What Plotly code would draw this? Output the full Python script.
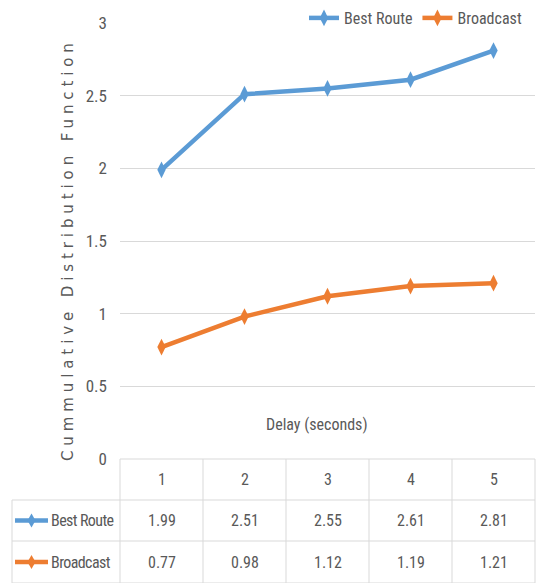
import plotly.graph_objects as go

# ---- data ----
delays = [1, 2, 3, 4, 5]
best_route = [1.99, 2.51, 2.55, 2.61, 2.81]
broadcast = [0.77, 0.98, 1.12, 1.19, 1.21]
series_names = ["Best Route", "Broadcast"]
series_values = [best_route, broadcast]
series_colors = ["#5B9BD5", "#ED7D31"]
y_ticks = [0, 0.5, 1, 1.5, 2, 2.5, 3]
y_tick_text = ["0", "0.5", "1", "1.5", "2", "2.5", "3"]
x_title = "Delay (seconds)"
y_title = "Cummulative Distribution Function"

# ---- page geometry (pixels) ----
W, H = 536, 583
L, R, T, B = 120, 1, 23, 124
PW, PH = W - L - R, H - T - B

NARROW = "Roboto Condensed, Liberation Sans, sans-serif"
TXT = "#595959"
GRID = "#d9d9d9"
FS = 16


def px_x(px):
    return (px - L) / PW


def px_y(py):
    return (H - B - py) / PH


def tight(s, sp=-0.45):
    return '<span style="letter-spacing:%spx">%s</span>' % (sp, s)


fig = go.Figure()
for name, vals, col in zip(series_names, series_values, series_colors):
    fig.add_trace(go.Scatter(
        x=delays, y=vals, name=name, mode="lines+markers",
        line=dict(color=col, width=4.5),
        marker=dict(symbol="diamond-tall", size=12, color=col),
        cliponaxis=False,
    ))

shapes = []
annotations = []

# data table underneath the plot: header row + one row per series
row_edges = [459, 500, 541, 583]
table_left = 12
x0, x1 = delays[0] - 0.5, delays[-1] + 0.5


def col_px(v):
    return L + (v - x0) / (x1 - x0) * PW


line_style = dict(color=GRID, width=1)
# horizontal rules
shapes.append(dict(type="line", xref="paper", yref="paper",
                   x0=px_x(L), x1=px_x(W - R), y0=px_y(row_edges[0]), y1=px_y(row_edges[0]),
                   line=line_style, layer="above"))
for ry in row_edges[1:]:
    shapes.append(dict(type="line", xref="paper", yref="paper",
                       x0=px_x(table_left), x1=px_x(W - R), y0=px_y(ry), y1=px_y(ry),
                       line=line_style))
# vertical rules between delay columns
for k in range(len(delays) + 1):
    xb = col_px(x0 + k)
    shapes.append(dict(type="line", xref="paper", yref="paper",
                       x0=px_x(xb), x1=px_x(xb), y0=px_y(row_edges[0]), y1=px_y(row_edges[-1]),
                       line=line_style))
shapes.append(dict(type="line", xref="paper", yref="paper",
                   x0=px_x(table_left), x1=px_x(table_left),
                   y0=px_y(row_edges[1]), y1=px_y(row_edges[-1]), line=line_style))

# header cells
hy = (row_edges[0] + row_edges[1]) / 2
for d in delays:
    annotations.append(dict(x=d, y=px_y(hy), xref="x", yref="paper", text=str(d),
                            showarrow=False, xanchor="center", yanchor="middle",
                            font=dict(family=NARROW, size=FS, color=TXT)))

# series rows: legend key, name and values
for i, (name, vals, col) in enumerate(zip(series_names, series_values, series_colors)):
    cy = (row_edges[i + 1] + row_edges[i + 2]) / 2
    shapes.append(dict(type="line", xref="paper", yref="paper",
                       x0=px_x(15), x1=px_x(48), y0=px_y(cy), y1=px_y(cy),
                       line=dict(color=col, width=4.5)))
    cx = 31.5
    path = "M {a},{b} L {c},{d} L {a},{e} L {f},{d} Z".format(
        a=px_x(cx), b=px_y(cy - 7), c=px_x(cx + 4), d=px_y(cy),
        e=px_y(cy + 7), f=px_x(cx - 4))
    shapes.append(dict(type="path", xref="paper", yref="paper", path=path,
                       fillcolor=col, line=dict(color=col, width=0)))
    annotations.append(dict(x=px_x(49), y=px_y(cy), xref="paper", yref="paper",
                            text=tight(name, -0.6),
                            showarrow=False, xanchor="left", yanchor="middle",
                            font=dict(family=NARROW, size=FS, color=TXT)))
    for d, v in zip(delays, vals):
        annotations.append(dict(x=d, y=px_y(cy), xref="x", yref="paper", text=f"{v:.2f}",
                                showarrow=False, xanchor="center", yanchor="middle",
                                font=dict(family=NARROW, size=FS, color=TXT)))

# axis titles
annotations.append(dict(x=px_x(317), y=px_y(424), xref="paper", yref="paper", text=x_title,
                        showarrow=False, xanchor="center", yanchor="middle",
                        font=dict(family=NARROW, size=FS, color=TXT)))
annotations.append(dict(x=px_x(68), y=px_y(250), xref="paper", yref="paper",
                        text='<span style="letter-spacing:4.9px">' + y_title + "</span>",
                        textangle=-90, showarrow=False, xanchor="center", yanchor="middle",
                        font=dict(family="DejaVu Sans, sans-serif", size=15, color=TXT)))

fig.update_layout(
    width=W, height=H,
    margin=dict(l=L, r=R, t=T, b=B, pad=0),
    paper_bgcolor="white", plot_bgcolor="white",
    showlegend=True,
    legend=dict(orientation="h", x=px_x(304), y=px_y(18), xanchor="left", yanchor="middle",
                bgcolor="rgba(0,0,0,0)", font=dict(family=NARROW, size=FS, color=TXT),
                itemwidth=30, tracegroupgap=0),
    xaxis=dict(range=[x0, x1], showgrid=False, zeroline=False, showticklabels=False,
               showline=False, ticks="", fixedrange=True),
    yaxis=dict(range=[0, 3], tickvals=y_ticks, ticktext=y_tick_text, showgrid=True,
               gridcolor=GRID, gridwidth=1, zeroline=False, showline=False, ticks="",
               ticklabelstandoff=12,
               tickfont=dict(family=NARROW, size=17, color=TXT)),
    shapes=shapes,
    annotations=annotations,
)

fig.write_html("out.html")
